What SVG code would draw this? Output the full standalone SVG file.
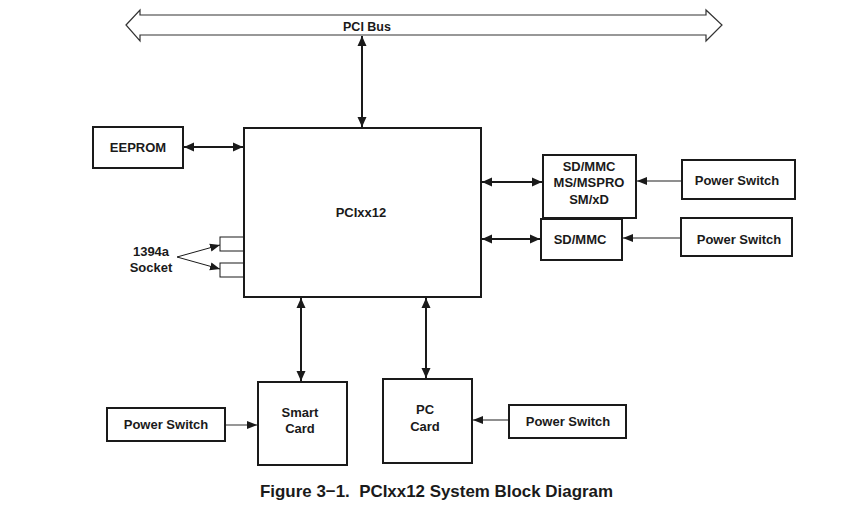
<svg xmlns="http://www.w3.org/2000/svg" width="847" height="505" viewBox="0 0 847 505">
<style>
.box{fill:#fff;stroke:#1a1a1a;stroke-width:2}
.t{font-family:"Liberation Sans",Arial,sans-serif;font-weight:bold;font-size:13px;fill:#1a1a1a;text-anchor:middle}
.bold{stroke:#1a1a1a;stroke-width:2;fill:none}
.thin{stroke:#6a6a6a;stroke-width:1.4;fill:none}
.sock{stroke:#1a1a1a;stroke-width:1;fill:none}
</style>
<defs>
<marker id="ah" markerUnits="userSpaceOnUse" markerWidth="10" markerHeight="10" refX="10" refY="5" orient="auto-start-reverse" viewBox="0 0 10 10">
<path d="M0,0.5 L10,5 L0,9.5 z" fill="#1a1a1a"/>
</marker>
<marker id="ahs" markerUnits="userSpaceOnUse" markerWidth="10" markerHeight="9" refX="10" refY="4.5" orient="auto" viewBox="0 0 10 9">
<path d="M0,0.5 L10,4.5 L0,8.5 z" fill="#1a1a1a"/>
</marker>
</defs>
<rect width="847" height="505" fill="#fff"/>

<g id="pci-bus">
<polygon points="126,25 140,10 140,15 706,15 706,10 722,25 706,41 706,35 140,35 140,41" fill="#fff" stroke="#333" stroke-width="1.2"/>
<text class="t" x="367" y="31" style="font-size:12.5px">PCI Bus</text>
</g>

<g id="pcixx12">
<rect class="box" x="244" y="128" width="237" height="169"/>
<text class="t" x="361" y="217">PCIxx12</text>
</g>

<g id="eeprom">
<rect class="box" x="93" y="127" width="90" height="41"/>
<text class="t" x="138" y="152">EEPROM</text>
</g>

<g id="socket">
<rect class="sock" x="220" y="237" width="24" height="14"/>
<rect class="sock" x="220" y="263" width="24" height="14"/>
<text class="t" x="151" y="256">1394a</text>
<text class="t" x="151" y="272">Socket</text>
</g>

<g id="sd-mmc-ms">
<rect class="box" x="543" y="155" width="93" height="63"/>
<text class="t" x="589" y="171">SD/MMC</text>
<text class="t" x="589" y="187">MS/MSPRO</text>
<text class="t" x="589" y="204">SM/xD</text>
</g>

<g id="power-switch-1">
<rect class="box" x="682" y="160" width="113" height="39"/>
<text class="t" x="737" y="185">Power Switch</text>
</g>

<g id="sd-mmc">
<rect class="box" x="541" y="219" width="81" height="41"/>
<text class="t" x="580" y="244">SD/MMC</text>
</g>

<g id="power-switch-2">
<rect class="box" x="681" y="218" width="111" height="38"/>
<text class="t" x="739" y="244">Power Switch</text>
</g>

<g id="smart-card">
<rect class="box" x="258" y="382" width="89" height="83"/>
<text class="t" x="300" y="417">Smart</text>
<text class="t" x="300" y="433">Card</text>
</g>

<g id="pc-card">
<rect class="box" x="383" y="379" width="89" height="84"/>
<text class="t" x="425" y="414">PC</text>
<text class="t" x="425" y="431">Card</text>
</g>

<g id="power-switch-3">
<rect class="box" x="107" y="408" width="118" height="33"/>
<text class="t" x="166" y="429">Power Switch</text>
</g>

<g id="power-switch-4">
<rect class="box" x="509" y="405" width="117" height="33"/>
<text class="t" x="568" y="426">Power Switch</text>
</g>

<g id="connectors">
<line class="bold" x1="362" y1="36" x2="362" y2="127" marker-start="url(#ah)" marker-end="url(#ah)"/>
<line class="bold" x1="184" y1="147" x2="243" y2="147" marker-start="url(#ah)" marker-end="url(#ah)"/>
<line class="bold" x1="482" y1="182" x2="542" y2="182" marker-start="url(#ah)" marker-end="url(#ah)"/>
<line class="bold" x1="482" y1="239" x2="540" y2="239" marker-start="url(#ah)" marker-end="url(#ah)"/>
<line class="bold" x1="301" y1="298" x2="301" y2="381" marker-start="url(#ah)" marker-end="url(#ah)"/>
<line class="bold" x1="426" y1="298" x2="426" y2="378" marker-start="url(#ah)" marker-end="url(#ah)"/>
<line class="thin" x1="681" y1="181" x2="637" y2="181" marker-end="url(#ahs)"/>
<line class="thin" x1="680" y1="238" x2="623" y2="238" marker-end="url(#ahs)"/>
<line class="thin" x1="226" y1="425" x2="257" y2="425" marker-end="url(#ahs)"/>
<line class="thin" x1="508" y1="420" x2="473" y2="420" marker-end="url(#ahs)"/>
<line class="sock" x1="177" y1="257" x2="220" y2="245" marker-end="url(#ahs)"/>
<line class="sock" x1="177" y1="257" x2="220" y2="269" marker-end="url(#ahs)"/>
</g>

<text class="t" x="436.5" y="497" style="font-size:17px" textLength="353" lengthAdjust="spacingAndGlyphs" xml:space="preserve">Figure 3−1.  PCIxx12 System Block Diagram</text>
</svg>
